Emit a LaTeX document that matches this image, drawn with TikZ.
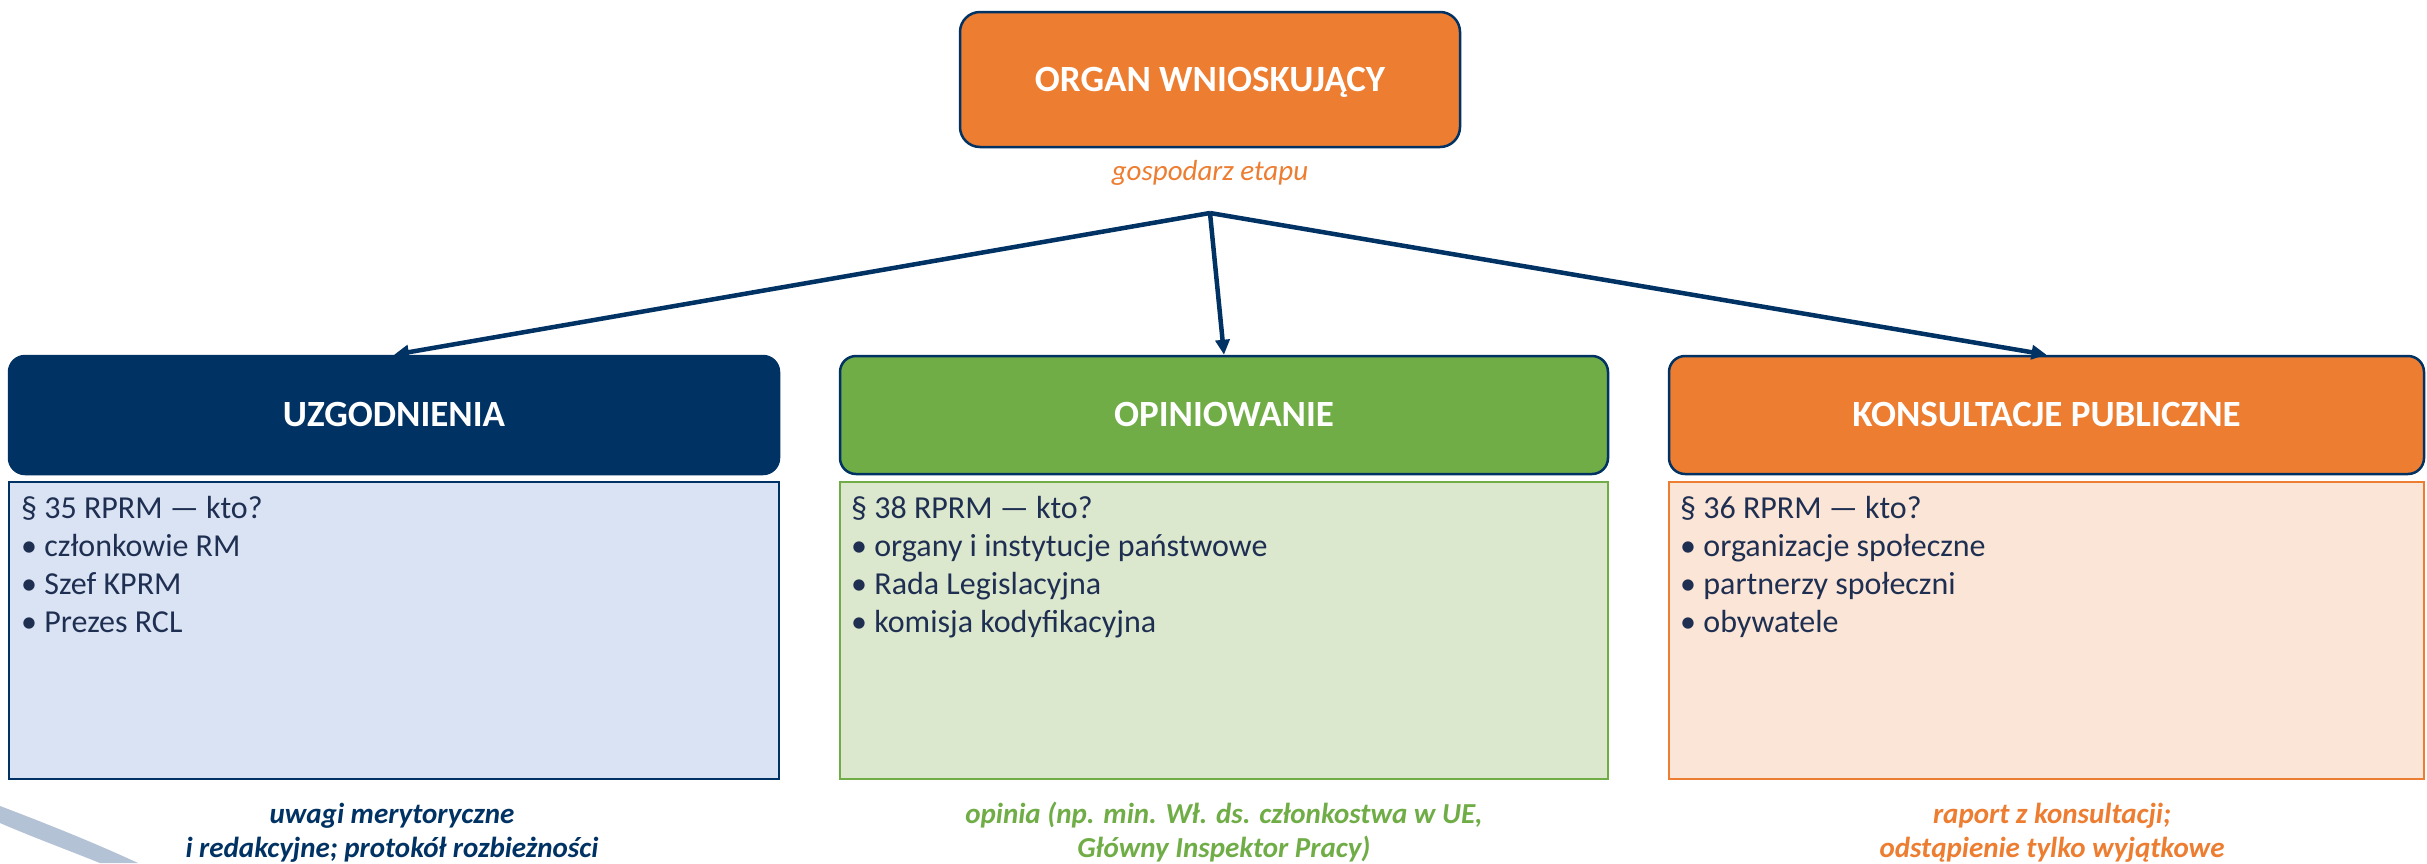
\documentclass[tikz,border=0pt]{standalone}
\usepackage{fontspec}
\setmainfont{Carlito}
\usetikzlibrary{arrows.meta}
\definecolor{navy}{HTML}{003264}
\definecolor{orng}{HTML}{ED7D31}
\definecolor{grn}{HTML}{70AD47}
\definecolor{lblue}{HTML}{DAE3F3}
\definecolor{lgreen}{HTML}{DCE8CE}
\definecolor{lorange}{HTML}{FBE5D6}
\definecolor{txtnavy}{HTML}{1F2F52}
\definecolor{swooshc}{HTML}{B4C2D6}
\begin{document}
\begin{tikzpicture}[x=1pt,y=-1pt,
  headbox/.style={draw=navy, line width=2.5pt, rounded corners=16pt, inner sep=0pt,
    minimum height=118pt, text=white, font=\fontsize{37}{44}\selectfont\bfseries,
    text height=23.5pt, text depth=0pt},
  listbox/.style={line width=2pt, inner sep=0pt, minimum height=297pt},
  listline/.style={anchor=base west, inner sep=0pt, text=txtnavy, font=\fontsize{32}{38}\selectfont},
  capline/.style={anchor=base, inner sep=0pt, font=\fontsize{29}{34}\selectfont\bfseries\itshape},
  arr/.style={draw=navy, line width=4.5pt, -{Triangle[length=15pt,width=14pt]}},
]
\useasboundingbox (0,0) rectangle (2427,863);
\fill[white] (0,0) rectangle (2427,863);
% decorative swoosh
\fill[swooshc] (0,806) .. controls (45,823) and (95,843) .. (138,863) -- (100,863)
  .. controls (65,849) and (30,836) .. (0,823) -- cycle;

% top box
\node[headbox, fill=orng, rounded corners=20pt, minimum width=500pt, minimum height=135pt]
  (organ) at (1210,79.5) {ORGAN WNIOSKUJĄCY};
\node[anchor=base, inner sep=0pt, text=orng, font=\fontsize{29}{34}\selectfont\itshape]
  (gosp) at (1210,180) {gospodarz etapu};
\coordinate (apex) at (1210,213);

% header boxes
\node[headbox, fill=navy, minimum width=770pt] (uzg) at (394,415) {UZGODNIENIA};
\node[headbox, fill=grn, minimum width=768pt] (opi) at (1224,415) {OPINIOWANIE};
\node[headbox, fill=orng, minimum width=755pt] (kon) at (2046.5,415) {KONSULTACJE PUBLICZNE};

% list boxes
\node[listbox, draw=navy, fill=lblue, minimum width=770pt] (uzgl) at (394,630.5) {};
\node[listbox, draw=grn, fill=lgreen, minimum width=768pt] (opil) at (1224,630.5) {};
\node[listbox, draw=orng, fill=lorange, minimum width=755pt] (konl) at (2046.5,630.5) {};

% arrows
\draw[arr] (apex) -- (uzg.north);
\draw[arr] (apex) -- (opi.north);
\draw[arr] (apex) -- (kon.north);

% list texts
\node[listline] (u0) at (21,518) {§ 35 RPRM — kto?};
\node[listline] (u1) at (21,556) {• członkowie RM};
\node[listline] (u2) at (21,594) {• Szef KPRM};
\node[listline] (u3) at (21,632) {• Prezes RCL};

\node[listline] (o0) at (851,518) {§ 38 RPRM — kto?};
\node[listline] (o1) at (851,556) {• organy i instytucje państwowe};
\node[listline] (o2) at (851,594) {• Rada Legislacyjna};
\node[listline] (o3) at (851,632) {• komisja kodyfikacyjna};

\node[listline] (k0) at (1680,518) {§ 36 RPRM — kto?};
\node[listline] (k1) at (1680,556) {• organizacje społeczne};
\node[listline] (k2) at (1680,594) {• partnerzy społeczni};
\node[listline] (k3) at (1680,632) {• obywatele};

% captions
\node[capline, text=navy] (uc1) at (392,823) {uwagi merytoryczne};
\node[capline, text=navy] (uc2) at (392,857) {i redakcyjne; protokół rozbieżności};
\node[capline, text=grn] (oc1) at (1224,823) {opinia (np. min. Wł. ds. członkostwa w UE,};
\node[capline, text=grn] (oc2) at (1224,857) {Główny Inspektor Pracy)};
\node[capline, text=orng] (kc1) at (2052,823) {raport z konsultacji;};
\node[capline, text=orng] (kc2) at (2052,857) {odstąpienie tylko wyjątkowe};
\end{tikzpicture}
\end{document}
